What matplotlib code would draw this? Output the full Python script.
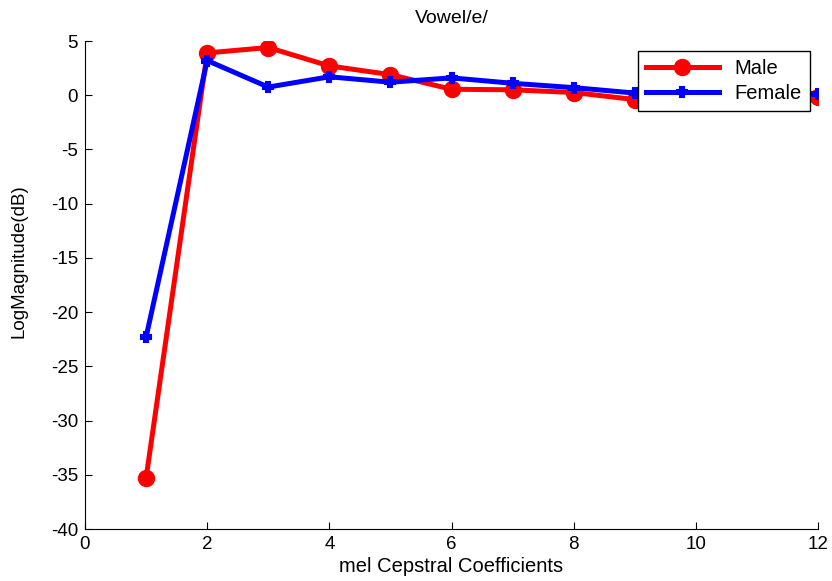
import matplotlib
matplotlib.use("Agg")
import matplotlib.pyplot as plt

plt.rcParams['font.family'] = ['Liberation Sans', 'DejaVu Sans']
plt.rcParams['axes.unicode_minus'] = False

# mel cepstral coefficient index and log magnitudes
coeff = [1, 2, 3, 4, 5, 6, 7, 8, 9, 10, 11, 12]
male = [-35.3, 3.9, 4.4, 2.7, 1.9, 0.55, 0.5, 0.25, -0.4, -0.5, -0.4, -0.2]
female = [-22.3, 3.2, 0.75, 1.7, 1.2, 1.6, 1.1, 0.7, 0.2, 0.0, 0.1, 0.15]

fig = plt.figure(figsize=(8.32, 5.81), dpi=100)
ax = fig.add_axes([85/832, 1 - 529/581, 733/832, 488/581])

ax.plot(coeff, male, '-o', color='red', lw=3.6, markersize=10,
        markeredgewidth=2.5, label='Male')
ax.plot(coeff, female, '-P', color='blue', lw=3.6, markersize=7,
        markeredgewidth=1.5, label='Female')

ax.set_xlim(0, 12)
ax.set_ylim(-40, 5)
ax.set_xticks(range(0, 13, 2))
ax.set_yticks(range(-40, 6, 5))
ax.tick_params(direction='in', length=5, labelsize=13.5, colors='black', pad=5)
ax.spines['top'].set_visible(False)
ax.spines['right'].set_visible(False)

ax.set_title('Vowel/e/', fontsize=14, pad=13)
ax.set_xlabel('mel Cepstral Coefficients', fontsize=14.5, labelpad=3)
ax.set_ylabel('LogMagnitude(dB)', fontsize=13.5)
ax.yaxis.set_label_coords(-0.078, 0.549)

leg = ax.legend(loc='upper right', bbox_to_anchor=(0.989, 0.98), fontsize=14.5,
                fancybox=False, framealpha=1, edgecolor='black',
                handlelength=3.6, borderaxespad=0, labelspacing=0.3)
leg.get_frame().set_linewidth(1.0)

fig.savefig('out.png', dpi=100)
